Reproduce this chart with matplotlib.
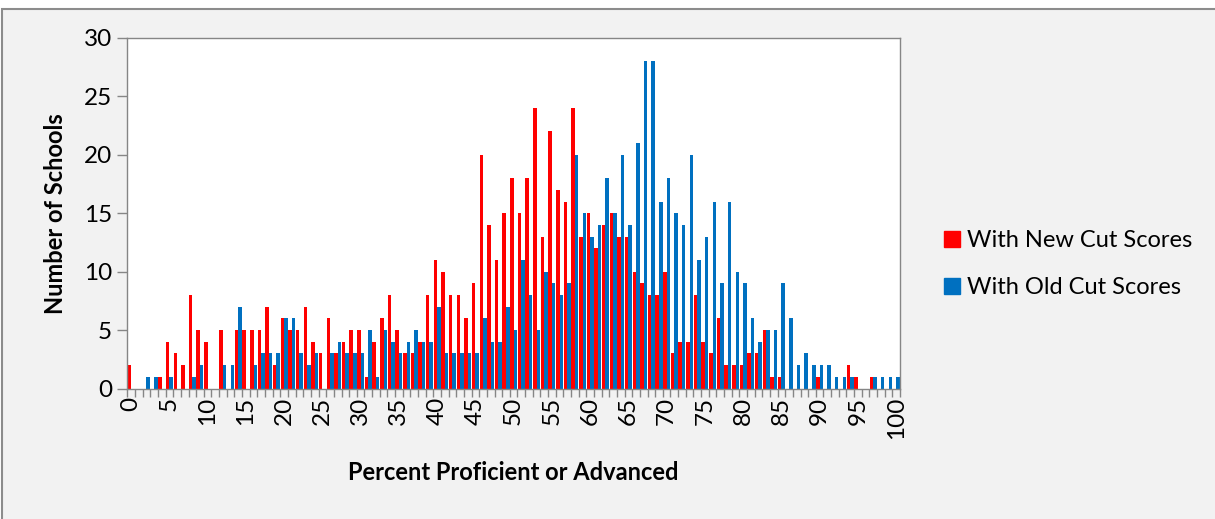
import matplotlib.pyplot as plt
import numpy as np
from matplotlib.lines import Line2D
from matplotlib.patches import Rectangle

plt.rcParams['font.family'] = ['Lato', 'DejaVu Sans']

# Percent proficient or advanced (0..100)
percent = np.arange(0, 101)

# Number of schools with the new cut scores
new_cut = [2, 0, 0, 0, 1, 4, 3, 2, 8, 5,
           4, 0, 5, 0, 5, 5, 5, 5, 7, 2,
           6, 5, 5, 7, 4, 3, 6, 3, 4, 5,
           5, 1, 4, 6, 8, 5, 3, 3, 4, 8,
           11, 10, 8, 8, 6, 9, 20, 14, 11, 15,
           18, 15, 18, 24, 13, 22, 17, 16, 24, 13,
           15, 12, 14, 15, 13, 13, 10, 9, 8, 8,
           10, 3, 4, 4, 8, 4, 3, 6, 2, 2,
           2, 3, 3, 5, 1, 1, 0, 0, 0, 0,
           1, 0, 0, 0, 2, 1, 0, 1, 0, 0, 0]

# Number of schools with the old cut scores
old_cut = [0, 0, 1, 1, 0, 1, 0, 0, 1, 2,
           0, 0, 2, 2, 7, 0, 2, 3, 3, 3,
           6, 6, 3, 2, 3, 0, 3, 4, 3, 3,
           3, 5, 1, 5, 4, 3, 4, 5, 4, 4,
           7, 3, 3, 3, 3, 3, 6, 4, 4, 7,
           5, 11, 8, 5, 10, 9, 8, 9, 20, 15,
           13, 14, 18, 15, 20, 14, 21, 28, 28, 16,
           18, 15, 14, 20, 11, 13, 16, 9, 16, 10,
           9, 6, 4, 5, 5, 9, 6, 2, 3, 2,
           2, 2, 1, 1, 1, 0, 0, 1, 1, 1, 1]

labels = ['With New Cut Scores', 'With Old Cut Scores']
red = '#FF0000'
blue = '#0070C0'
grey = '#868686'

fig = plt.figure(figsize=(12.15, 5.19), dpi=100, facecolor='white')
# chart area background with frame on left/top
fig.patches.append(Rectangle((2 / 1215, -0.05), 1.1, 1 - 9 / 519 + 0.05,
                             transform=fig.transFigure, facecolor='#F2F2F2',
                             edgecolor='#8C8C8C', linewidth=1.5, zorder=-10))

ax = fig.add_axes([127.3 / 1215, 1 - 388.5 / 519, (900 - 127.3) / 1215, (388.5 - 38) / 519])
ax.set_facecolor('white')

w = 0.46
ax.bar(percent - 0.23, new_cut, width=w, color=red, label=labels[0])
ax.bar(percent + 0.23, old_cut, width=w, color=blue, label=labels[1])

ax.set_xlim(-0.5, 100.5)
ax.set_ylim(0, 30)
ax.set_yticks(np.arange(0, 31, 5))

# tick marks between categories, labels every 5
ax.set_xticks(np.arange(-0.5, 101, 1))
ax.set_xticklabels([])
ax.set_xticks(np.arange(0, 101, 5), minor=True)
ax.set_xticklabels([str(v) for v in range(0, 101, 5)], minor=True, rotation=90)
ax.tick_params(axis='x', which='major', length=6, width=1, color=grey)
ax.tick_params(axis='x', which='minor', length=0, pad=6, labelsize=17.5)
ax.tick_params(axis='y', length=7, width=1, color=grey, labelsize=17.5, pad=4)

for s in ax.spines.values():
    s.set_color(grey)
    s.set_linewidth(1)

ax.set_xlabel('Percent Proficient or Advanced', fontsize=17, fontweight='bold', labelpad=16)
ax.set_ylabel('Number of Schools', fontsize=17, fontweight='bold', labelpad=12)

handles = [Line2D([], [], marker='s', linestyle='none', markersize=11, color=c)
           for c in (red, blue)]
fig.legend(handles, labels, loc='center left', bbox_to_anchor=(917 / 1215, 1 - 264 / 519),
           frameon=False, fontsize=17, handletextpad=0.0, labelspacing=1.1,
           handlelength=1.2)

fig.savefig('out.png', dpi=100, facecolor=fig.get_facecolor())
